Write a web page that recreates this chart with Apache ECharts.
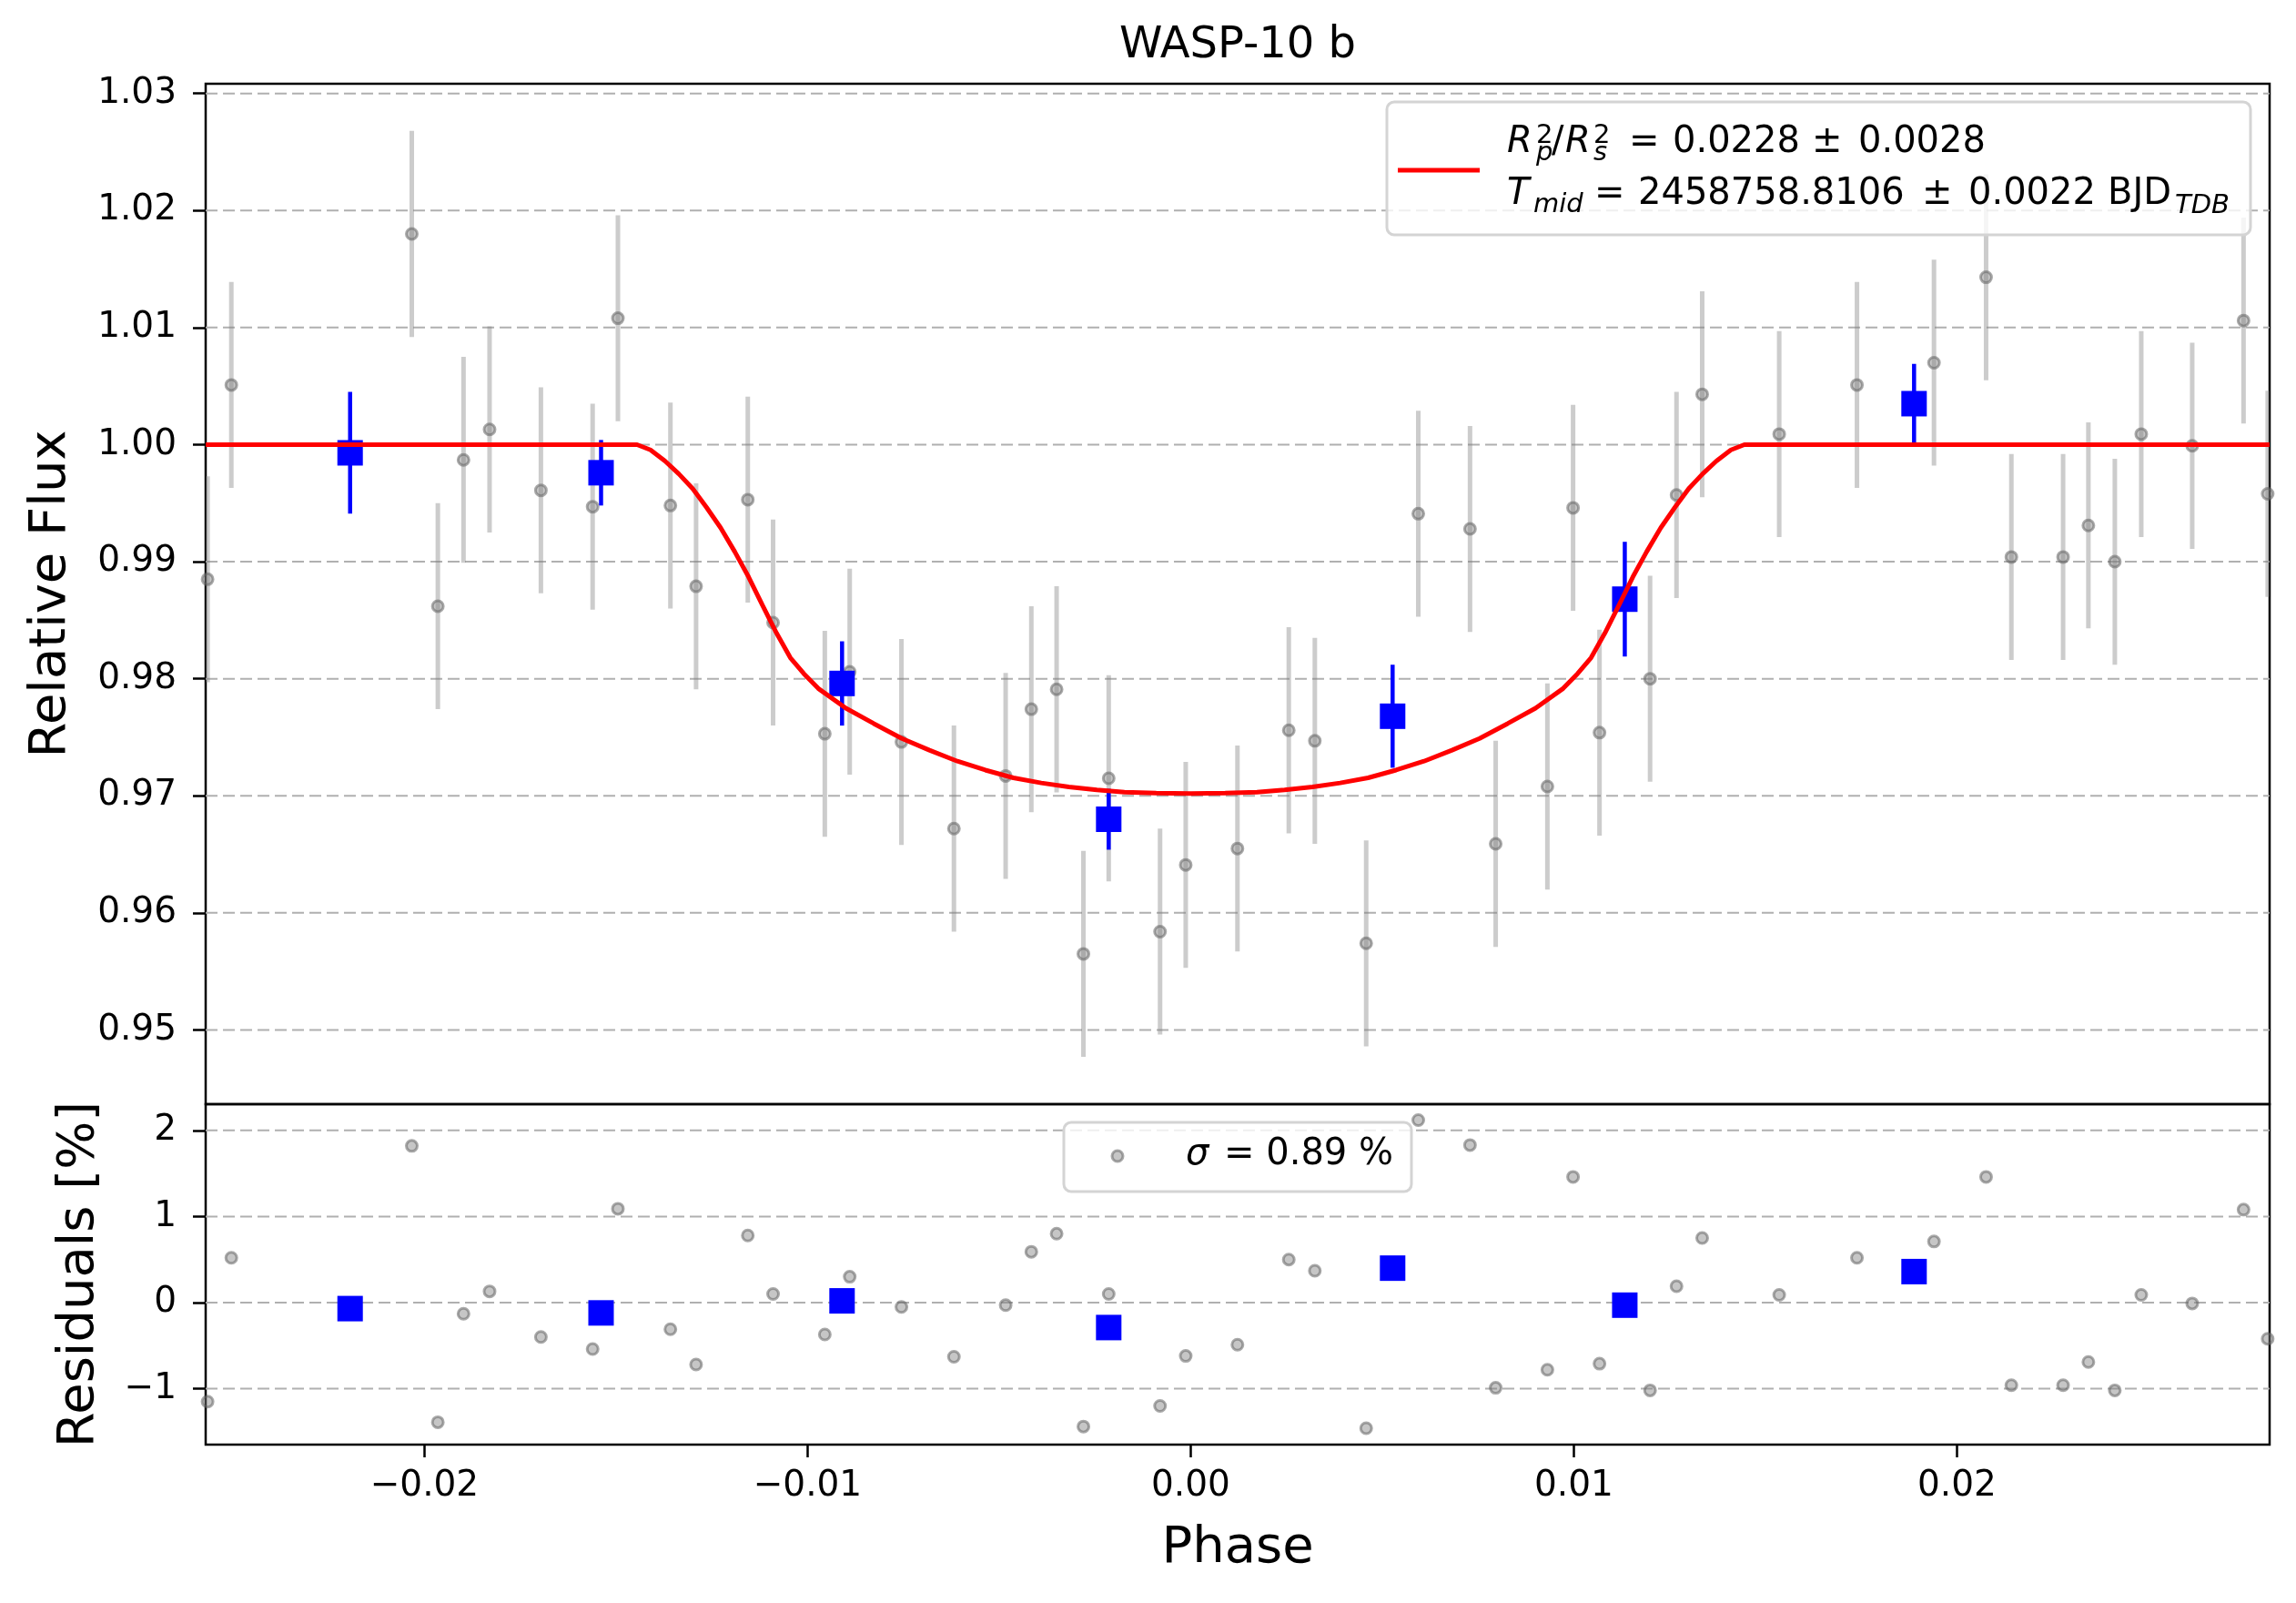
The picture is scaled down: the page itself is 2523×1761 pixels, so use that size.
<!DOCTYPE html>
<html><head><meta charset="utf-8">
<script src="https://cdn.jsdelivr.net/npm/echarts@6/dist/echarts.min.js"></script>
<style>html,body{margin:0;padding:0;background:#fff}#chart{width:2523px;height:1761px}</style>
</head><body><div id="chart"></div>
<script>
// ---- data ----
const grayPhase = [-0.02566,-0.02504,-0.02033,-0.01965,-0.01898,-0.0183,-0.01696,-0.01561,-0.01495,-0.01358,-0.01291,-0.01156,-0.0109,-0.00955,-0.0089,-0.00755,-0.00618,-0.00483,-0.00416,-0.0035,-0.0028,-0.00214,-0.0008,-0.00013,0.00122,0.00256,0.00324,0.00458,0.00594,0.00729,0.00796,0.00931,0.00998,0.01067,0.01199,0.01268,0.01335,0.01536,0.01739,0.0194,0.02076,0.02142,0.02277,0.02343,0.02412,0.02481,0.02614,0.02748,0.02811];
const grayFlux = [0.9885,1.0051,1.0180,0.9862,0.9987,1.0013,0.9961,0.9947,1.0108,0.9948,0.9879,0.9953,0.9848,0.9753,0.9806,0.9746,0.9672,0.9717,0.9774,0.9791,0.9565,0.9715,0.9584,0.9641,0.9655,0.9756,0.9747,0.9574,0.9941,0.9928,0.9659,0.9708,0.9946,0.9754,0.9800,0.9957,1.0043,1.0009,1.0051,1.0070,1.0143,0.9904,0.9904,0.9931,0.9900,1.0009,0.9999,1.0106,0.9958];
const grayErr = [0.0088,0.0088,0.0088,0.0088,0.0088,0.0088,0.0088,0.0088,0.0088,0.0088,0.0088,0.0088,0.0088,0.0088,0.0088,0.0088,0.0088,0.0088,0.0088,0.0088,0.0088,0.0088,0.0088,0.0088,0.0088,0.0088,0.0088,0.0088,0.0088,0.0088,0.0088,0.0088,0.0088,0.0088,0.0088,0.0088,0.0088,0.0088,0.0088,0.0088,0.0088,0.0088,0.0088,0.0088,0.0088,0.0088,0.0088,0.0088,0.0088];
const grayResidual = [-1.15,0.52,1.82,-1.39,-0.13,0.13,-0.40,-0.54,1.09,-0.31,-0.72,0.78,0.10,-0.37,0.30,-0.05,-0.63,-0.03,0.59,0.80,-1.44,0.10,-1.20,-0.62,-0.49,0.50,0.37,-1.46,2.12,1.83,-0.99,-0.78,1.46,-0.71,-1.02,0.19,0.75,0.09,0.52,0.71,1.46,-0.96,-0.96,-0.69,-1.02,0.09,-0.01,1.08,-0.42];

const binPhase = [-0.02194,-0.01539,-0.0091,-0.00214,0.00527,0.01133,0.01888];
const binFlux = [0.9993,0.9976,0.9796,0.9680,0.9768,0.9868,1.0035];
const binErr = [0.0052,0.0028,0.0036,0.0026,0.0044,0.0049,0.0034];
const binResidual = [-0.07,-0.12,0.02,-0.29,0.40,-0.03,0.36];

const modelPhase = [-0.02571,-0.01445,-0.0141,-0.01372,-0.01336,-0.013,-0.01264,-0.01227,-0.0119,-0.01154,-0.01118,-0.01081,-0.01045,-0.0101,-0.00972,-0.009,-0.00827,-0.00754,-0.00682,-0.00609,-0.00536,-0.00463,-0.0039,-0.00318,-0.00245,-0.00173,-0.0009,0,0.0009,0.00173,0.00245,0.00318,0.0039,0.00463,0.00536,0.00609,0.00682,0.00754,0.00827,0.009,0.00972,0.0101,0.01045,0.01081,0.01118,0.01154,0.0119,0.01227,0.01264,0.013,0.01336,0.01372,0.0141,0.01445,0.02816];
const modelFlux = [1.0,1.0,0.99955,0.9986,0.9975,0.99625,0.99465,0.9929,0.99085,0.9887,0.9863,0.9839,0.9818,0.98045,0.97917,0.97749,0.97617,0.9749,0.9739,0.97296,0.9722,0.97154,0.9711,0.97076,0.9705,0.97032,0.97024,0.9702,0.97024,0.97032,0.9705,0.97076,0.9711,0.97154,0.9722,0.97296,0.9739,0.9749,0.97617,0.97749,0.97917,0.98045,0.9818,0.9839,0.9863,0.9887,0.99085,0.9929,0.99465,0.99625,0.9975,0.9986,0.99955,1.0,1.0];

const phaseTicks = [-0.02,-0.01,0.00,0.01,0.02];
const fluxTicks = [0.95,0.96,0.97,0.98,0.99,1.00,1.01,1.02,1.03];
const residualTicks = [-1,0,1,2];

const phaseRange = [-0.02571, 0.02816];
const fluxRange = [0.94366, 1.03083];
const residualRange = [-1.65, 2.305];

// ---- chart ----
const FONT = '"DejaVu Sans", sans-serif';
const chart = echarts.init(document.getElementById('chart'), null, {renderer: 'canvas'});

function zip() { const a = arguments; return a[0].map((_, i) => Array.prototype.map.call(a, arr => arr[i])); }
const minusFmt = (v, d) => (v < -1e-12 ? '\u2212' : '') + Math.abs(v).toFixed(d);

function errBarRender(color, width) {
  return function (params, api) {
    const x = api.value(0), y = api.value(1), e = api.value(2);
    const p1 = api.coord([x, y - e]), p2 = api.coord([x, y + e]);
    return {type: 'line', shape: {x1: p1[0], y1: p1[1], x2: p2[0], y2: p2[1]},
            style: {stroke: color, lineWidth: width}};
  };
}
function gridLineRender(params, api) {
  const p1 = api.coord([api.value(0), api.value(1)]);
  const p2 = api.coord([api.value(2), api.value(1)]);
  return {type: 'line', shape: {x1: p1[0], y1: p1[1], x2: p2[0], y2: p2[1]},
          style: {stroke: '#b0b0b0', lineWidth: 2, lineDash: [13, 6]}};
}

const tickStyle = {show: true, length: 14, lineStyle: {color: '#000', width: 2.5}};
const labelBase = {color: '#000', fontFamily: FONT, fontSize: 39};
const nameStyle = {color: '#000', fontFamily: FONT, fontSize: 56};
const hiddenLine = {show: false, onZero: false};

const grayPoint = {color: 'rgba(128,128,128,0.45)', borderColor: 'rgba(100,100,100,0.55)', borderWidth: 3, opacity: 1};

const option = {
  animation: false,
  backgroundColor: '#fff',
  textStyle: {fontFamily: FONT},
  title: {
    text: 'WASP-10 b', left: 1360, top: 27, textAlign: 'center', padding: 0,
    textStyle: {fontFamily: FONT, fontSize: 48, fontWeight: 'normal', color: '#000'}
  },
  grid: [
    {left: 226, top: 92, width: 2268, height: 1121, show: true, borderColor: '#000', borderWidth: 2.5, backgroundColor: 'transparent', containLabel: false, outerBoundsMode: 'none'},
    {left: 226, top: 1213, width: 2268, height: 374, show: true, borderColor: '#000', borderWidth: 2.5, backgroundColor: 'transparent', containLabel: false, outerBoundsMode: 'none'}
  ],
  xAxis: [
    {type: 'value', gridIndex: 0, min: phaseRange[0], max: phaseRange[1], position: 'bottom',
     axisLine: hiddenLine, axisTick: {show: false}, axisLabel: {show: false}, splitLine: {show: false}},
    {type: 'value', gridIndex: 1, min: phaseRange[0], max: phaseRange[1], position: 'bottom',
     axisLine: hiddenLine, splitLine: {show: false},
     axisTick: Object.assign({customValues: phaseTicks}, tickStyle),
     axisLabel: Object.assign({customValues: phaseTicks, margin: 26, formatter: v => minusFmt(v, 2)}, labelBase),
     name: 'Phase', nameLocation: 'middle', nameGap: 86, nameTextStyle: nameStyle}
  ],
  yAxis: [
    {type: 'value', gridIndex: 0, min: fluxRange[0], max: fluxRange[1], position: 'left',
     axisLine: hiddenLine, splitLine: {show: false},
     axisTick: Object.assign({customValues: fluxTicks}, tickStyle),
     axisLabel: Object.assign({customValues: fluxTicks, margin: 32, formatter: v => v.toFixed(2)}, labelBase),
     name: 'Relative Flux', nameLocation: 'middle', nameRotate: 90, nameGap: 142, nameTextStyle: nameStyle},
    {type: 'value', gridIndex: 1, min: residualRange[0], max: residualRange[1], position: 'left',
     axisLine: hiddenLine, splitLine: {show: false},
     axisTick: Object.assign({customValues: residualTicks}, tickStyle),
     axisLabel: Object.assign({customValues: residualTicks, margin: 32, formatter: v => minusFmt(v, 0)}, labelBase),
     name: 'Residuals [%]', nameLocation: 'middle', nameRotate: 90, nameGap: 111, nameTextStyle: nameStyle}
  ],
  series: [
    {type: 'custom', name: 'grid-main', xAxisIndex: 0, yAxisIndex: 0, z: 1, silent: true,
     data: fluxTicks.map(v => [phaseRange[0], v, phaseRange[1]]), renderItem: gridLineRender},
    {type: 'custom', name: 'grid-res', xAxisIndex: 1, yAxisIndex: 1, z: 1, silent: true,
     data: residualTicks.map(v => [phaseRange[0], v, phaseRange[1]]), renderItem: gridLineRender},
    {type: 'custom', name: 'flux errors', xAxisIndex: 0, yAxisIndex: 0, z: 2, clip: true,
     data: zip(grayPhase, grayFlux, grayErr), renderItem: errBarRender('rgba(128,128,128,0.4)', 5)},
    {type: 'scatter', name: 'flux', xAxisIndex: 0, yAxisIndex: 0, z: 3, symbol: 'circle', symbolSize: 12,
     itemStyle: grayPoint, data: zip(grayPhase, grayFlux)},
    {type: 'custom', name: 'binned errors', xAxisIndex: 0, yAxisIndex: 0, z: 4, clip: true,
     data: zip(binPhase, binFlux, binErr), renderItem: errBarRender('#0000ff', 4.5)},
    {type: 'scatter', name: 'binned', xAxisIndex: 0, yAxisIndex: 0, z: 5, symbol: 'rect', symbolSize: 28,
     itemStyle: {color: '#0000ff', opacity: 1}, data: zip(binPhase, binFlux)},
    {type: 'line', name: 'model', xAxisIndex: 0, yAxisIndex: 0, z: 6, showSymbol: false, symbol: 'none',
     lineStyle: {color: '#ff0000', width: 5}, data: zip(modelPhase, modelFlux)},
    {type: 'scatter', name: 'residuals', xAxisIndex: 1, yAxisIndex: 1, z: 3, symbol: 'circle', symbolSize: 12,
     itemStyle: grayPoint, data: zip(grayPhase, grayResidual)},
    {type: 'scatter', name: 'binned residuals', xAxisIndex: 1, yAxisIndex: 1, z: 5, symbol: 'rect', symbolSize: 28,
     itemStyle: {color: '#0000ff', opacity: 1}, data: zip(binPhase, binResidual)}
  ],
  graphic: {elements: []}
};

function txt(x, y, text, size, italic) {
  return {type: 'text', x: x, y: y, z: 100, silent: true,
    style: {text: text, font: (italic ? 'italic ' : '') + size + 'px ' + FONT, fill: '#000',
            align: 'left', textAlign: 'left', verticalAlign: 'middle', textVerticalAlign: 'middle'}};
}
const G = option.graphic.elements;
// main legend
G.push({type: 'rect', z: 99, silent: true, shape: {x: 1524, y: 112, width: 949, height: 146, r: 8},
        style: {fill: 'rgba(255,255,255,0.8)', stroke: '#d4d4d4', lineWidth: 3}});
G.push({type: 'line', z: 100, silent: true, shape: {x1: 1536, y1: 187, x2: 1626, y2: 187},
        style: {stroke: '#ff0000', lineWidth: 5}});
G.push(txt(1656, 157, 'R', 40, true));
G.push(txt(1688, 149, '2', 29, false));
G.push(txt(1688, 168, 'p', 29, true));
G.push(txt(1705, 157, '/', 40, false));
G.push(txt(1720, 157, 'R', 40, true));
G.push(txt(1751, 149, '2', 29, false));
G.push(txt(1751, 168, 's', 29, true));
G.push(txt(1790, 157, '=', 40, false));
G.push(txt(1838, 157, '0.0228', 40, false));
G.push(txt(1991, 157, '\u00b1', 40, false));
G.push(txt(2042, 157, '0.0028', 40, false));
G.push(txt(1656, 214, 'T', 40, true));
G.push(txt(1685, 225, 'mid', 29, true));
G.push(txt(1752, 214, '=', 40, false));
G.push(txt(1800, 214, '2458758.8106', 40, false));
G.push(txt(2112, 214, '\u00b1', 40, false));
G.push(txt(2163, 214, '0.0022', 40, false));
G.push(txt(2316, 214, 'BJD', 40, false));
G.push(txt(2390, 226, 'TDB', 29, true));
// residual legend
G.push({type: 'rect', z: 99, silent: true, shape: {x: 1169, y: 1233, width: 382, height: 76, r: 8},
        style: {fill: 'rgba(255,255,255,0.8)', stroke: '#d4d4d4', lineWidth: 3}});
G.push({type: 'circle', z: 100, silent: true, shape: {cx: 1228, cy: 1270, r: 6},
        style: {fill: 'rgba(128,128,128,0.45)', stroke: 'rgba(100,100,100,0.55)', lineWidth: 3}});
G.push(txt(1303, 1269, '\u03c3', 40, true));
G.push(txt(1345, 1269, '= 0.89 %', 40, false));

chart.setOption(option);
</script>
</body></html>
